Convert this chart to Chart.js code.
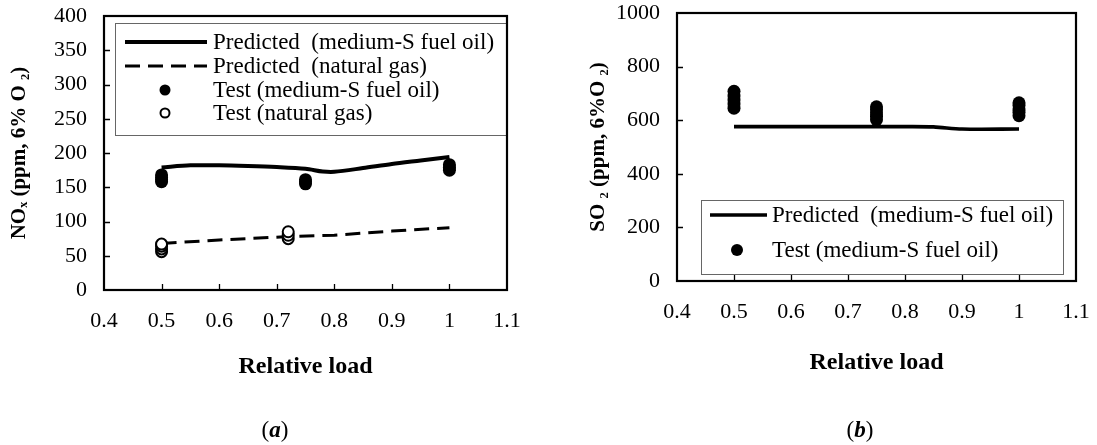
<!DOCTYPE html>
<html><head><meta charset="utf-8">
<script src="https://cdn.jsdelivr.net/npm/chart.js@4.4.1/dist/chart.umd.min.js"></script>
<style>
html,body{margin:0;padding:0;background:#fff;}
#wrap{position:relative;width:1097px;height:445px;overflow:hidden;background:#fff;}
.box{position:absolute;top:0;height:445px;}
#boxA{left:0;width:550px;}
#boxB{left:550px;width:547px;}
.cap{position:absolute;font-family:'Liberation Serif',serif;font-size:23px;transform:translate(-50%,-50%);white-space:nowrap;color:#000;}
</style></head><body>
<div id="wrap">
<div class="box" id="boxA"><canvas id="cA"></canvas></div>
<div class="box" id="boxB"><canvas id="cB"></canvas></div>
<div class="cap" style="left:275px;top:430px">(<b><i>a</i></b>)</div>
<div class="cap" style="left:860px;top:430px">(<b><i>b</i></b>)</div>
</div>
<script>
// ---------- data ----------
const xTickValues = [0.4, 0.5, 0.6, 0.7, 0.8, 0.9, 1.0, 1.1];
const xTickLabels = ['0.4', '0.5', '0.6', '0.7', '0.8', '0.9', '1', '1.1'];
const yTickValuesA = [0, 50, 100, 150, 200, 250, 300, 350, 400];
const yTickValuesB = [0, 200, 400, 600, 800, 1000];

// (a) NOx
const loadPredOilA = [0.5, 0.55, 0.6, 0.65, 0.7, 0.75, 0.78, 0.8, 0.85, 0.9, 0.95, 1.0];
const noxPredOil   = [179, 182, 182, 181, 179.5, 177, 173, 172.5, 178, 184, 189, 194];
const loadPredGas  = [0.5, 0.6, 0.72, 0.8, 0.9, 1.0];
const noxPredGas   = [68, 73, 78, 80, 86, 91];
const loadTestOilA = [0.5, 0.5, 0.5, 0.5, 0.75, 0.75, 0.75, 1.0, 1.0, 1.0];
const noxTestOil   = [158, 161, 164, 168, 155, 158, 161, 175, 179, 183];
const loadTestGas  = [0.5, 0.5, 0.5, 0.5, 0.72, 0.72, 0.72];
const noxTestGas   = [56, 60, 64, 67, 75, 80, 85];

// (b) SO2
const loadPredOilB = [0.5, 0.6, 0.7, 0.8, 0.85, 0.9, 1.0];
const so2PredOil   = [576, 576, 576, 576, 575, 567, 567];
const loadTestOilB = [0.5, 0.5, 0.5, 0.5, 0.5, 0.75, 0.75, 0.75, 0.75, 0.75, 1.0, 1.0, 1.0, 1.0, 1.0];
const so2TestOil   = [645, 660, 675, 690, 708, 602, 615, 628, 640, 650, 617, 630, 642, 655, 665];

const labelPredOil = 'Predicted  (medium-S fuel oil)';
const labelPredGas = 'Predicted  (natural gas)';
const labelTestOil = 'Test (medium-S fuel oil)';
const labelTestGas = 'Test (natural gas)';

// ---------- helpers ----------
const pts = (xs, ys) => xs.map((x, i) => ({x: x, y: ys[i]}));
const FONT = "'Liberation Serif', 'DejaVu Serif', serif";
Chart.defaults.font.family = FONT;
Chart.defaults.color = '#000';

function framePlugin(cfg) {
  return {
    id: 'frame' + cfg.name,
    afterDatasetsDraw(chart) {
      const {ctx, chartArea: a, scales} = chart;
      ctx.save();
      // inner tick marks
      ctx.strokeStyle = '#000';
      ctx.lineWidth = 1.3;
      ctx.beginPath();
      const xs = scales.x, ys = scales.y;
      xs.ticks.forEach(t => {
        if (t.value <= xs.min + 1e-9 || t.value >= xs.max - 1e-9) return;
        const px = Math.round(xs.getPixelForValue(t.value)) + 0.5;
        ctx.moveTo(px, a.bottom); ctx.lineTo(px, a.bottom - cfg.tick);
      });
      ys.ticks.forEach(t => {
        if (t.value <= ys.min + 1e-9 || t.value >= ys.max - 1e-9) return;
        const py = Math.round(ys.getPixelForValue(t.value)) + 0.5;
        ctx.moveTo(a.left, py); ctx.lineTo(a.left + cfg.tick, py);
      });
      ctx.stroke();
      // legend
      const L = cfg.legend;
      const bx1 = a.left + L.left, by1 = a.top + L.top;
      const bx2 = a.right - L.right, by2 = a.bottom - L.bottom;
      ctx.fillStyle = '#fff';
      ctx.fillRect(bx1, by1, bx2 - bx1, by2 - by1);
      ctx.strokeStyle = '#666';
      ctx.lineWidth = 1;
      ctx.strokeRect(Math.round(bx1) + 0.5, Math.round(by1) + 0.5, Math.round(bx2 - bx1), Math.round(by2 - by1));
      ctx.font = L.font + 'px ' + FONT;
      ctx.textBaseline = 'middle';
      ctx.textAlign = 'left';
      L.items.forEach((it, i) => {
        const ds = chart.data.datasets[it.ds];
        const y = a.top + L.rows[i];
        ctx.strokeStyle = '#000';
        ctx.fillStyle = '#000';
        if (ds.showLine) {
          ctx.lineWidth = ds.borderWidth;
          ctx.setLineDash(ds.borderDash || []);
          ctx.beginPath();
          ctx.moveTo(a.left + L.lineX1, y);
          ctx.lineTo(a.left + L.lineX2, y);
          ctx.stroke();
          ctx.setLineDash([]);
        } else {
          ctx.beginPath();
          ctx.arc(a.left + L.markX, y, it.r, 0, Math.PI * 2);
          ctx.fillStyle = ds.backgroundColor;
          ctx.fill();
          if (ds.borderWidth > 0) {
            ctx.lineWidth = ds.borderWidth;
            ctx.strokeStyle = ds.borderColor;
            ctx.stroke();
          }
        }
        ctx.fillStyle = '#000';
        ctx.fillText(ds.label, a.left + L.textX, y + 1);
      });
      // frame
      ctx.strokeStyle = '#000';
      ctx.lineWidth = 2.2;
      ctx.strokeRect(a.left, a.top, a.right - a.left, a.bottom - a.top);
      ctx.restore();
    }
  };
}

function xScale(height, titlePad) {
  return {
    type: 'linear', min: 0.4, max: 1.1,
    afterBuildTicks: s => { s.ticks = xTickValues.map(v => ({value: v})); },
    ticks: {callback: (v, i) => xTickLabels[i], padding: 18, font: {size: 22}, color: '#000', maxRotation: 0, autoSkip: false},
    grid: {display: false, drawTicks: false, tickLength: 0},
    border: {display: false},
    title: {display: true, text: 'Relative load', color: '#000', font: {size: 24, weight: 'bold'}, padding: {top: 0, bottom: titlePad}},
    afterFit: s => { s.height = height; s.paddingLeft = 0; s.paddingRight = 0; }
  };
}
function yScale(max, tickValues, text, width, titlePad) {
  return {
    type: 'linear', min: 0, max: max,
    afterBuildTicks: s => { s.ticks = tickValues.map(v => ({value: v})); },
    ticks: {callback: v => String(v), padding: 17, font: {size: 22}, color: '#000'},
    grid: {display: false, drawTicks: false, tickLength: 0},
    border: {display: false},
    title: {display: true, text: text, color: '#000', font: {size: 21, weight: 'bold'}, padding: {top: titlePad, bottom: 0}},
    afterFit: s => { s.width = width; s.paddingTop = 0; s.paddingBottom = 0; }
  };
}

// ---------- chart (a) ----------
new Chart(document.getElementById('cA'), {
  type: 'scatter',
  data: {
    datasets: [
      {label: labelPredOil, data: pts(loadPredOilA, noxPredOil), showLine: true, borderColor: '#000', borderWidth: 4, pointRadius: 0, tension: 0.3, order: 2},
      {label: labelPredGas, data: pts(loadPredGas, noxPredGas), showLine: true, borderColor: '#000', borderWidth: 3, borderDash: [15, 8], pointRadius: 0, tension: 0, order: 2},
      {label: labelTestOil, data: pts(loadTestOilA, noxTestOil), showLine: false, backgroundColor: '#000', borderColor: '#000', borderWidth: 0, pointRadius: 6.5, order: 1},
      {label: labelTestGas, data: pts(loadTestGas, noxTestGas), showLine: false, backgroundColor: '#fff', borderColor: '#000', borderWidth: 2, pointRadius: 5.5, order: 0}
    ]
  },
  options: {
    responsive: true, maintainAspectRatio: false, animation: false, events: [],
    layout: {padding: {left: 0, right: 43, top: 16, bottom: 0}},
    plugins: {legend: {display: false}, tooltip: {enabled: false}},
    scales: {
      x: xScale(155, 64),
      y: yScale(400, yTickValuesA, 'NOₓ (ppm, 6% O ₂)', 104, 7)
    }
  },
  plugins: [framePlugin({name: 'A', tick: 6, legend: {
    left: 11, top: 7, right: 1, bottom: 155, font: 23,
    rows: [26, 50, 74, 97], lineX1: 21, lineX2: 103, markX: 61, textX: 109,
    items: [{ds: 0}, {ds: 1}, {ds: 2, r: 5.5}, {ds: 3, r: 4.5}]
  }})]
});

// ---------- chart (b) ----------
new Chart(document.getElementById('cB'), {
  type: 'scatter',
  data: {
    datasets: [
      {label: labelPredOil, data: pts(loadPredOilB, so2PredOil), showLine: true, borderColor: '#000', borderWidth: 3.6, pointRadius: 0, tension: 0.3, order: 1},
      {label: labelTestOil, data: pts(loadTestOilB, so2TestOil), showLine: false, backgroundColor: '#000', borderColor: '#000', borderWidth: 0, pointRadius: 6.5, order: 0}
    ]
  },
  options: {
    responsive: true, maintainAspectRatio: false, animation: false, events: [],
    layout: {padding: {left: 0, right: 21, top: 13, bottom: 0}},
    plugins: {legend: {display: false}, tooltip: {enabled: false}},
    scales: {
      x: xScale(164, 68),
      y: yScale(1000, yTickValuesB, 'SO ₂ (ppm, 6%O ₂)', 127, 36)
    }
  },
  plugins: [framePlugin({name: 'B', tick: 6, legend: {
    left: 24, top: 187, right: 13, bottom: 7, font: 23,
    rows: [202, 237], lineX1: 33, lineX2: 90, markX: 60, textX: 95,
    items: [{ds: 0}, {ds: 1, r: 6}]
  }})]
});
</script>
</body></html>
